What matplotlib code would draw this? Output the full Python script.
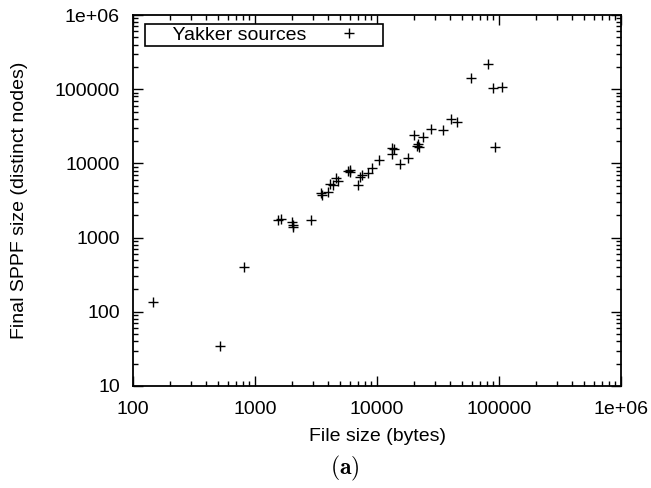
import matplotlib
matplotlib.use("Agg")
import matplotlib.pyplot as plt
from matplotlib.ticker import LogLocator, FixedLocator, FixedFormatter, NullFormatter

plt.rcParams['font.family'] = ['Liberation Sans', 'DejaVu Sans']
plt.rcParams['mathtext.fontset'] = 'cm'

file_size = [146, 516, 813, 1535, 1622, 2023, 2046, 2046, 2876,
             3475, 3515, 3990, 4120, 4390, 4600, 4800, 5820, 5980, 6010,
             7020, 7260, 7490, 8480, 9150, 10440, 13200, 13340, 13900,
             15500, 18050, 20000, 21100, 21700, 21900, 24000, 27900,
             34600, 40200, 44980, 59300, 81600, 89300, 105800, 92700]
sppf_size = [135, 35, 402, 1750, 1806, 1630, 1410, 1500, 1750,
             4020, 3700, 4090, 5200, 5050, 6410, 5750, 7870, 7640, 8130,
             5050, 6610, 6950, 7510, 8750, 10970, 13250, 16300, 15450,
             9910, 11940, 24000, 17140, 18460, 16500, 22650, 29000,
             28180, 40170, 36640, 142200, 215900, 104200, 107600, 16780]

x_ticks = [100, 1000, 10000, 100000, 1000000]
x_tick_labels = ["100", "1000", "10000", "100000", "1e+06"]
y_ticks = [10, 100, 1000, 10000, 100000, 1000000]
y_tick_labels = ["10", "100", "1000", "10000", "100000", "1e+06"]

fig = plt.figure(figsize=(6.51, 4.88), dpi=100)
ax = fig.add_axes([133/651, 1 - 386/488, (621-133)/651, (386-15)/488])

ax.plot(file_size, sppf_size, linestyle='none', marker='+', color='black',
        markersize=7.5, markeredgewidth=1.0, label='     Yakker sources')

ax.set_xscale('log')
ax.set_yscale('log')
ax.set_xlim(100, 1e6)
ax.set_ylim(10, 1e6)

ax.xaxis.set_major_locator(FixedLocator(x_ticks))
ax.xaxis.set_major_formatter(FixedFormatter(x_tick_labels))
ax.yaxis.set_major_locator(FixedLocator(y_ticks))
ax.yaxis.set_major_formatter(FixedFormatter(y_tick_labels))
ax.xaxis.set_minor_locator(LogLocator(base=10, subs=range(2, 10), numticks=20))
ax.yaxis.set_minor_locator(LogLocator(base=10, subs=range(2, 10), numticks=20))
ax.xaxis.set_minor_formatter(NullFormatter())
ax.yaxis.set_minor_formatter(NullFormatter())

ax.tick_params(which='both', direction='in', top=True, right=True,
               labelsize=14, colors='black')
ax.tick_params(which='major', length=7, width=1.0)
ax.tick_params(which='minor', length=3.5, width=1.0)
ax.tick_params(axis='x', which='major', pad=10.5)
ax.tick_params(axis='y', which='major', pad=9.5)
for s in ax.spines.values():
    s.set_linewidth(1.3)

ax.set_xlabel('File size (bytes)', fontsize=14, labelpad=7.5)
ax.set_ylabel('Final SPPF size (distinct nodes)', fontsize=14)
ax.yaxis.set_label_coords((28 - 133) / 488, 0.5)

leg = ax.legend(loc='upper left', bbox_to_anchor=(0.0236, 0.9757),
                borderaxespad=0, markerfirst=False, fancybox=False,
                edgecolor='black', framealpha=1, fontsize=14,
                handlelength=3.3, handletextpad=0.5, borderpad=0.1)
leg.get_frame().set_linewidth(1.2)

fig.text(345/651, 1 - 468/488, r'$\mathbf{(a)}$', ha='center', va='center',
         fontsize=17)

fig.savefig('out.png', dpi=100)
